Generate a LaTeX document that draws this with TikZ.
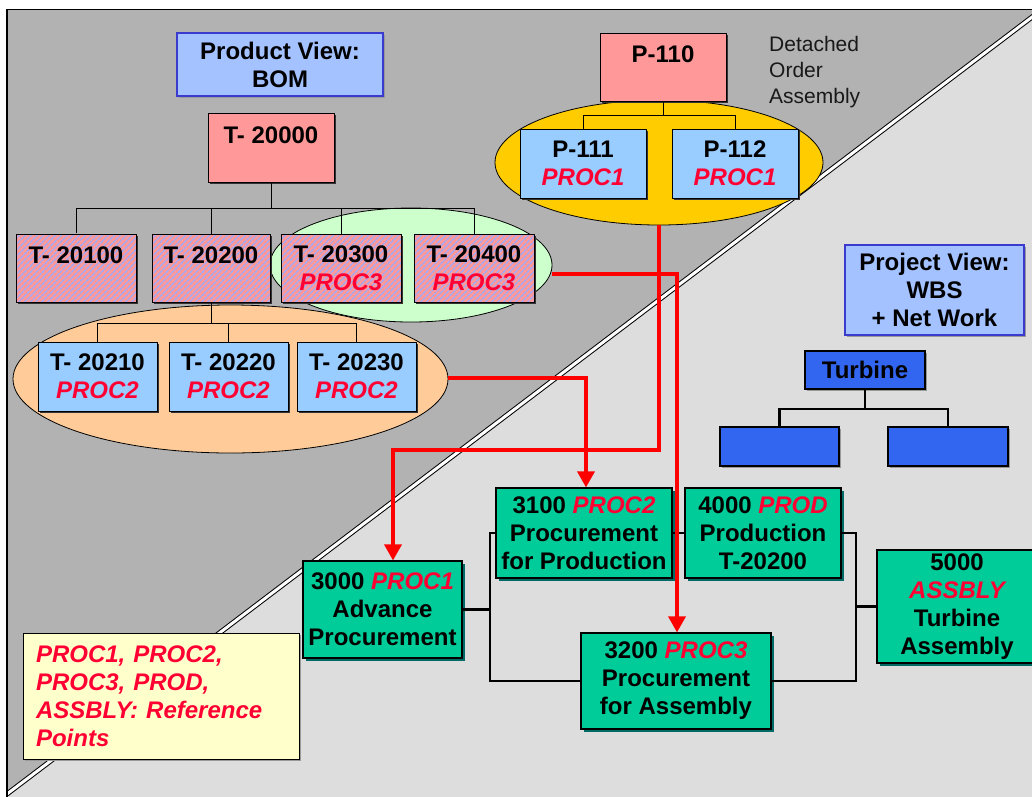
\documentclass[tikz,border=0pt]{standalone}
\usepackage{fontspec}
\setmainfont{Liberation Sans}
\usetikzlibrary{arrows.meta,shapes.geometric,patterns.meta,shadows,calc}
\definecolor{bgdark}{HTML}{B2B2B2}
\definecolor{bglight}{HTML}{DDDDDD}
\definecolor{viewblue}{HTML}{A4C2FF}
\definecolor{viewborder}{HTML}{3A3ACC}
\definecolor{salmonfill}{HTML}{FF9999}
\definecolor{stripeblue}{HTML}{A6A8F2}
\definecolor{lblue}{HTML}{99CCFF}
\definecolor{lgreen}{HTML}{CCFFCC}
\definecolor{lorange}{HTML}{FFCC99}
\definecolor{goldfill}{HTML}{FFCC00}
\definecolor{netgreen}{HTML}{00CC99}
\definecolor{netshadow}{HTML}{006B66}
\definecolor{wbsblue}{HTML}{3366F0}
\definecolor{refred}{HTML}{FF0033}
\definecolor{arrred}{HTML}{FF0000}
\definecolor{legendfill}{HTML}{FFFFCC}
\newcommand\refpt[1]{\textcolor{refred}{\itshape #1}}
\begin{document}
\begin{tikzpicture}[x=1pt,y=-1pt,
  txt/.style={font=\fontsize{24}{28}\selectfont\bfseries, align=center, inner sep=0pt},
  box/.style={txt, draw=black, line width=1pt, rectangle},
  topline/.style={text height=17pt, text depth=26pt},
  bomshadow/.style={drop shadow={shadow xshift=2pt, shadow yshift=-2pt, fill=black!80, opacity=1}},
  softshadow/.style={drop shadow={shadow xshift=2pt, shadow yshift=-2pt, fill=black!40, opacity=1}},
  salmonbox/.style={box, bomshadow, fill=salmonfill},
  hatchbox/.style={box, bomshadow, preaction={fill=salmonfill}, pattern={Lines[angle=45,distance=4pt,line width=1.7pt]}, pattern color=stripeblue},
  bluebox/.style={box, bomshadow, fill=lblue},
  viewbox/.style={box, softshadow, fill=viewblue, draw=viewborder, line width=1.2pt},
  wbsbox/.style={box, softshadow, fill=wbsblue, line width=1.2pt},
  netbox/.style={box, drop shadow={shadow xshift=3pt, shadow yshift=-3pt, fill=netshadow, opacity=1}, fill=netgreen, line width=1.2pt},
  grp/.style={ellipse, draw=black, line width=0.8pt, inner sep=0pt},
  treeline/.style={draw=black, line width=0.9pt},
  thickline/.style={draw=black, line width=2.5pt},
  redarr/.style={draw=arrred, line width=3.5pt, -{Triangle[length=16pt,width=17pt]}}
]
\useasboundingbox (0,0) rectangle (1032,796);
\clip (0,0) rectangle (1032,796);
\fill[white] (0,0) rectangle (1032,796);
% background halves
\fill[bgdark] (7,9.5) rectangle (1040,800);
\fill[bglight] (7,794) -- (1040,11) -- (1040,800) -- (7,800) -- cycle;
\begin{scope}
  \clip (7,9.5) rectangle (1040,800);
  \draw[double=white, double distance=3pt, line width=1pt] (7,794) -- (1040,11);
\end{scope}
\draw[line width=1.5pt] (7,800) -- (7,9.5) -- (1040,9.5);

% group ellipses
\node[grp, fill=lgreen, minimum width=282pt, minimum height=114pt] (ellG) at (411,265) {};
\node[grp, fill=lorange, minimum width=435pt, minimum height=148pt] (ellO) at (230.5,379) {};
\node[grp, fill=goldfill, minimum width=328pt, minimum height=125pt] (ellY) at (659,162.5) {};

% product view
\node[viewbox, minimum width=206pt, minimum height=63pt] (pview) at (280,64.5) {Product View:\\BOM};
\node[salmonbox, topline, minimum width=126pt, minimum height=69pt] (t20000) at (271,147.5) {T- 20000};
\node[hatchbox, topline, minimum width=120pt, minimum height=68pt] (t20100) at (76,268) {T- 20100};
\node[hatchbox, topline, minimum width=118pt, minimum height=68pt] (t20200) at (211,268) {T- 20200};
\node[hatchbox, minimum width=120pt, minimum height=68pt] (t20300) at (341,268) {T- 20300\\\refpt{PROC3}};
\node[hatchbox, minimum width=120pt, minimum height=68pt] (t20400) at (474,268) {T- 20400\\\refpt{PROC3}};
\node[bluebox, minimum width=119pt, minimum height=69pt] (t20210) at (97.5,376.5) {T- 20210\\\refpt{PROC2}};
\node[bluebox, minimum width=119pt, minimum height=69pt] (t20220) at (228.5,376.5) {T- 20220\\\refpt{PROC2}};
\node[bluebox, minimum width=119pt, minimum height=69pt] (t20230) at (356.5,376.5) {T- 20230\\\refpt{PROC2}};

% detached order assembly
\node[salmonbox, topline, minimum width=126pt, minimum height=68pt] (p110) at (663,67) {P-110};
\node[bluebox, minimum width=126pt, minimum height=69pt] (p111) at (583,163.5) {P-111\\\refpt{PROC1}};
\node[bluebox, minimum width=126pt, minimum height=69pt] (p112) at (735,163.5) {P-112\\\refpt{PROC1}};
\node[anchor=north west, align=left, inner sep=0pt, font=\fontsize{21}{26}\selectfont, text=black!90] (detached) at (769,36) {Detached\\Order\\Assembly};

% project view
\node[viewbox, minimum width=179pt, minimum height=90pt] (prview) at (934.5,290) {Project View:\\WBS\\+ Net Work};
\node[wbsbox, minimum width=120pt, minimum height=38pt] (turbine) at (865,370) {Turbine};
\node[wbsbox, minimum width=119pt, minimum height=39pt] (wbs1) at (779.5,446.5) {};
\node[wbsbox, minimum width=120pt, minimum height=39pt] (wbs2) at (948,446.5) {};

% network
\node[netbox, minimum width=159pt, minimum height=97pt] (n3000) at (382.5,609.5) {3000 \refpt{PROC1}\\Advance\\Procurement};
\node[netbox, minimum width=176pt, minimum height=90pt] (n3100) at (584,533) {3100 \refpt{PROC2}\\Procurement\\for Production};
\node[netbox, minimum width=156pt, minimum height=90pt] (n4000) at (763,533) {4000 \refpt{PROD}\\Production\\T-20200};
\node[netbox, minimum width=190pt, minimum height=96pt] (n3200) at (676,681) {3200 \refpt{PROC3}\\Procurement\\for Assembly};
\node[netbox, minimum width=160pt, minimum height=113pt] (n5000) at (957,606.5) {5000\\\refpt{ASSBLY}\\Turbine\\Assembly};

% legend
\node[box, softshadow, fill=legendfill, minimum width=276pt, minimum height=126pt, text width=250pt, align=left] (legend) at (161,696) {\refpt{PROC1, PROC2,}\\\refpt{PROC3, PROD,}\\\refpt{ASSBLY: Reference}\\\refpt{Points}};

% BOM tree lines
\draw[treeline] (t20000.south) -- (t20000.south |- 0,208) -| (t20100.north);
\draw[treeline] (t20000.south |- 0,208) -| (t20200.north);
\draw[treeline] (t20000.south |- 0,208) -| (t20300.north);
\draw[treeline] (t20000.south |- 0,208) -| (t20400.north);
\draw[treeline] (t20200.south) -- (t20200.south |- 0,323) -| (t20210.north);
\draw[treeline] (t20200.south |- 0,323) -| (t20220.north);
\draw[treeline] (t20200.south |- 0,323) -| (t20230.north);
\draw[treeline] (p110.south) -- (p110.south |- 0,115) -| (p111.north);
\draw[treeline] (p110.south |- 0,115) -| (p112.north);

% WBS lines
\draw[thickline] (turbine.south) -- (turbine.south |- 0,409) -| (wbs1.north);
\draw[thickline] (turbine.south |- 0,409) -| (wbs2.north);

% network lines
\coordinate (jl) at (490,0);
\coordinate (jr) at (856,0);
\draw[thickline] (n3000.east) -- (n3000.east -| jl);
\draw[thickline] (n3100.west) -- (n3100.west -| jl) -- (n3200.west -| jl) -- (n3200.west);
\draw[thickline] (n3100.east) -- (n4000.west);
\draw[thickline] (n4000.east) -- (n4000.east -| jr) -- (n3200.east -| jr) -- (n3200.east);
\draw[thickline] (n5000.west -| jr) -- (n5000.west);

% red reference links
\coordinate (r1) at (393,450);
\coordinate (r2) at (677,274);
\coordinate (r3) at (586,378);
\draw[redarr] (ellY.south) -- (ellY.south |- r1) -- (r1) -- (r1 |- n3000.north);
\draw[redarr] (ellG.east |- r2) -- (r2) -- (r2 |- n3200.north);
\draw[redarr] (ellO.east |- r3) -- (r3) -- (r3 |- n3100.north);
\end{tikzpicture}
\end{document}
